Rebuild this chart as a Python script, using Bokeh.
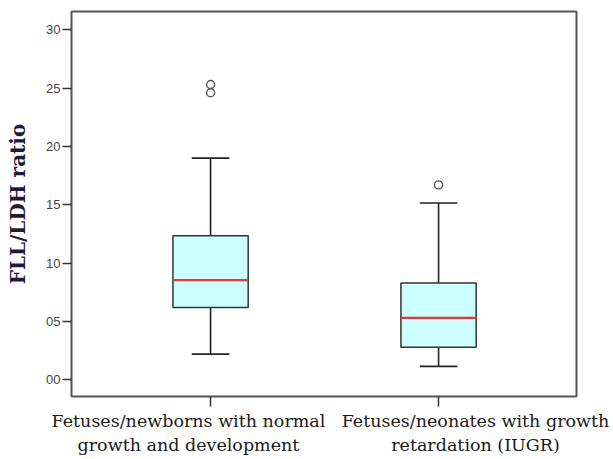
from bokeh.plotting import figure
from bokeh.models import ColumnDataSource, Range1d, FixedTicker, LinearAxis
from bokeh.embed import file_html
from bokeh.resources import INLINE

# ---- data ----
line1 = ["Fetuses/newborns with normal", "Fetuses/neonates with growth"]
line2 = ["growth and development", "retardation (IUGR)"]
positions = [1, 2]
lower_whisker = [2.2, 1.15]
q1 = [6.2, 2.8]
median = [8.55, 5.3]
q3 = [12.35, 8.3]
upper_whisker = [19.0, 15.15]
outlier_group = [1, 1, 2]
outlier_values = [25.3, 24.6, 16.7]
y_ticks = [0, 5, 10, 15, 20, 25, 30]
y_tick_labels = ["00", "05", "10", "15", "20", "25", "30"]

box_w = 0.33
cap_w = 0.165
label_shift = [-0.097, 0.162]   # category labels sit off-centre in the reference

p = figure(width=613, height=459, output_backend="svg", toolbar_location=None,
           x_range=Range1d(0.39, 2.605), y_range=Range1d(-1.43, 31.56),
           min_border_left=71, min_border_right=37, min_border_top=11, min_border_bottom=63)

src = ColumnDataSource(dict(
    x=positions,
    lo=lower_whisker, q1=q1, med=median, q3=q3, hi=upper_whisker,
    left=[x - box_w / 2 for x in positions], right=[x + box_w / 2 for x in positions],
    cl=[x - cap_w / 2 for x in positions], cr=[x + cap_w / 2 for x in positions],
))

# whiskers
p.segment(x0="x", y0="q3", x1="x", y1="hi", source=src, line_color="#222222", line_width=1.6)
p.segment(x0="x", y0="lo", x1="x", y1="q1", source=src, line_color="#222222", line_width=1.6)
p.segment(x0="cl", y0="hi", x1="cr", y1="hi", source=src, line_color="#222222", line_width=1.6)
p.segment(x0="cl", y0="lo", x1="cr", y1="lo", source=src, line_color="#222222", line_width=1.6)
# boxes
p.quad(left="left", right="right", bottom="q1", top="q3", source=src,
       fill_color="#CCFFFF", line_color="#333333", line_width=1.5)
# medians
p.segment(x0="left", y0="med", x1="right", y1="med", source=src, line_color="#E8343C", line_width=2.2)
# outliers
p.scatter(x=outlier_group, y=outlier_values, marker="circle", size=8,
          fill_color="white", line_color="#555555", line_width=1.4)

# frame
p.grid.visible = False
p.outline_line_color = "#555555"
p.outline_line_width = 2

# y axis
p.yaxis.ticker = FixedTicker(ticks=y_ticks)
p.yaxis.major_label_overrides = {t: l for t, l in zip(y_ticks, y_tick_labels)}
p.yaxis.axis_line_color = None
p.yaxis.major_tick_out = 9
p.yaxis.major_tick_in = 0
p.yaxis.minor_tick_line_color = None
p.yaxis.major_tick_line_color = "#333333"
p.yaxis.major_tick_line_width = 1.5
p.yaxis.major_label_text_font = "Liberation Sans"
p.yaxis.major_label_text_font_size = "13px"
p.yaxis.major_label_text_color = "#444444"
p.yaxis.major_label_standoff = 2
p.yaxis.axis_label = "FLL/LDH ratio"
p.yaxis.axis_label_text_font = "DejaVu Serif"
p.yaxis.axis_label_text_font_style = "bold"
p.yaxis.axis_label_text_font_size = "20px"
p.yaxis.axis_label_text_color = "#1c1c36"
p.yaxis.axis_label_standoff = 13

# x axis: tick marks at the categories
xa = p.xaxis[0]
xa.ticker = FixedTicker(ticks=positions)
xa.major_label_overrides = {x: "" for x in positions}
xa.major_label_standoff = 0
xa.axis_line_color = None
xa.major_tick_out = 10
xa.major_tick_in = 0
xa.minor_tick_line_color = None
xa.major_tick_line_color = "#333333"
xa.major_tick_line_width = 1.5

# x axis: category labels
label_pos = [x + s for x, s in zip(positions, label_shift)]
la = LinearAxis(ticker=FixedTicker(ticks=label_pos),
                major_label_overrides={lp: a + "\n" + b for lp, a, b in zip(label_pos, line1, line2)})
la.axis_line_color = None
la.major_tick_line_color = None
la.minor_tick_line_color = None
la.major_tick_out = 0
la.major_tick_in = 0
la.major_label_standoff = 4
la.major_label_text_font = "DejaVu Serif"
la.major_label_text_font_size = "17.5px"
la.major_label_text_color = "#1a1a1a"
p.add_layout(la, "below")

open("out.html", "w").write(file_html(p, INLINE))
